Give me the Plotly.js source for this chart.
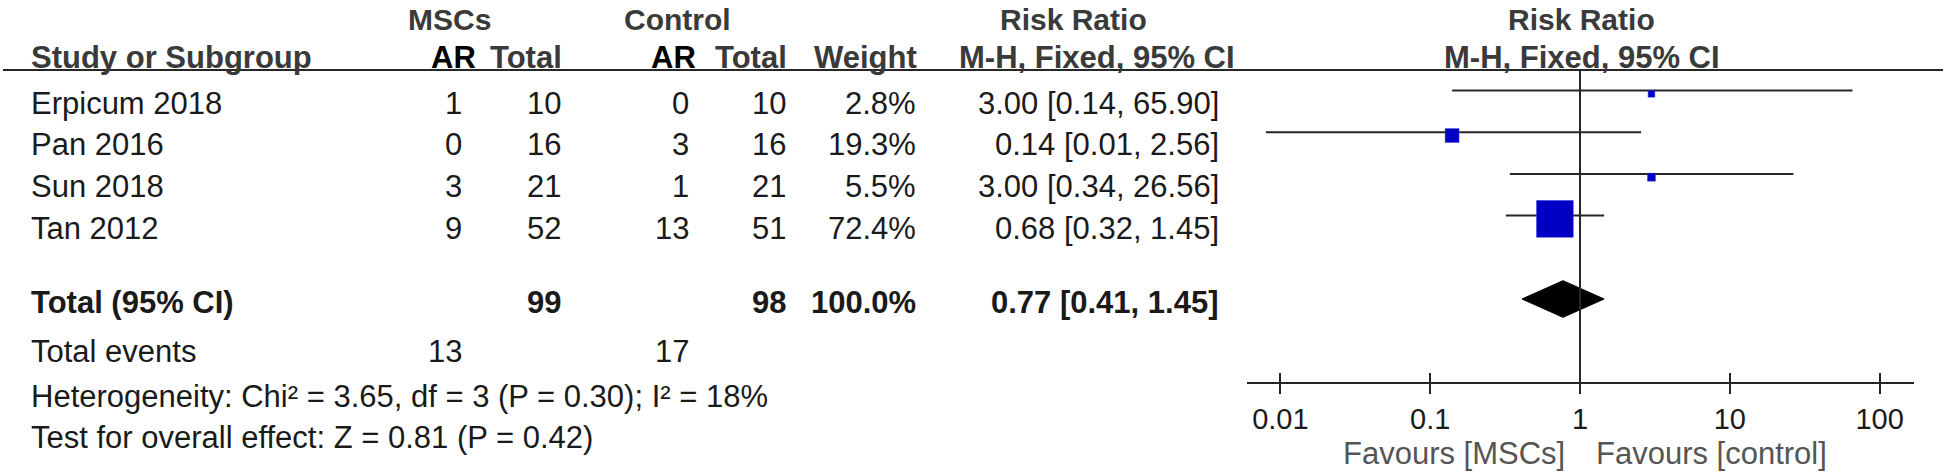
<html><head><meta charset="UTF-8"><title>Forest plot - AR</title>
<script src="https://cdn.plot.ly/plotly-3.0.1.min.js"></script>
<style>
  body, html { margin: 0; padding: 0; background: #ffffff; }
  #plot { width: 1946px; height: 472px; }
</style></head><body>
<div id="plot"></div>
<script>
// study data
const studies   = ['Erpicum 2018', 'Pan 2016', 'Sun 2018', 'Tan 2012'];
const mscEvents = [1, 0, 3, 9];
const mscTotal  = [10, 16, 21, 52];
const ctlEvents = [0, 3, 1, 13];
const ctlTotal  = [10, 16, 21, 51];
const weights   = [2.8, 19.3, 5.5, 72.4];
const riskRatio = [3.00, 0.14, 3.00, 0.68];
const ciLow     = [0.14, 0.008, 0.34, 0.32];
const ciHigh    = [65.90, 2.56, 26.56, 1.45];

const pooledRR   = 0.77;
const pooledLow  = 0.41;
const pooledHigh = 1.45;
const heterogeneityText = 'Heterogeneity: Chi² = 3.65, df = 3 (P = 0.30); I² = 18%';
const overallText = 'Test for overall effect: Z = 0.81 (P = 0.42)';

const tickVals   = [0.01, 0.1, 1, 10, 100];
const tickLabels = ['0.01', '0.1', '1', '10', '100'];

// ---- layout helpers (pixels -> paper / row units) ----
const W = 1946, H = 472;
const ROW0 = 103, ROWH = 41.7;
const px = x => x / W;
const rowOf = y => (y - ROW0) / ROWH;

const FONT = 'Arial, "Liberation Sans", sans-serif';
const BODY = 31;
const rowsIdx = studies.map((_, i) => i);
const totalRow  = rowOf(302);
const eventsRow = rowOf(351);
const hetRow    = rowOf(396);
const testRow   = rowOf(437);

const sum = a => a.reduce((s, v) => s + v, 0);
const fmt2 = v => v.toFixed(2);

const annotations = [];
function txt(text, xPix, r, anchor, opt) {
  opt = opt || {};
  annotations.push({
    text: opt.bold ? '<b>' + text + '</b>' : text,
    x: px(xPix), xref: 'paper', xanchor: anchor,
    y: r, yref: 'y', yanchor: 'middle',
    showarrow: false, borderpad: 0,
    font: { family: FONT, size: opt.size || BODY, color: opt.color || '#1a1a1a' }
  });
}

// headers
const hdr1 = rowOf(19), hdr2 = rowOf(57);
const HC = '#3a3a3a', HS = 30;
txt('MSCs', 449, hdr1, 'center', { bold: true, color: HC, size: HS });
txt('Control', 677, hdr1, 'center', { bold: true, color: HC, size: HS });
txt('Risk Ratio', 1073, hdr1, 'center', { bold: true, color: HC, size: HS });
txt('Risk Ratio', 1581, hdr1, 'center', { bold: true, color: HC, size: HS });
txt('Study or Subgroup', 30, hdr2, 'left', { bold: true, color: HC });
txt('AR', 477, hdr2, 'right', { bold: true, color: '#000' });
txt('Total', 563, hdr2, 'right', { bold: true, color: HC });
txt('AR', 697, hdr2, 'right', { bold: true, color: '#000' });
txt('Total', 788, hdr2, 'right', { bold: true, color: HC });
txt('Weight', 918, hdr2, 'right', { bold: true, color: HC });
txt('M-H, Fixed, 95% CI', 1097, hdr2, 'center', { bold: true, color: HC });
txt('M-H, Fixed, 95% CI', 1582, hdr2, 'center', { bold: true, color: HC });

// study rows
rowsIdx.forEach(i => {
  txt(studies[i], 30, i, 'left');
  txt(String(mscEvents[i]), 463, i, 'right');
  txt(String(mscTotal[i]), 562, i, 'right');
  txt(String(ctlEvents[i]), 690, i, 'right');
  txt(String(ctlTotal[i]), 787, i, 'right');
  txt(weights[i].toFixed(1) + '%', 917, i, 'right');
  txt(fmt2(riskRatio[i]) + ' [' + fmt2(ciLow[i]) + ', ' + fmt2(ciHigh[i]) + ']', 1220, i, 'right');
});

// totals
txt('Total (95% CI)', 30, totalRow, 'left', { bold: true });
txt(String(sum(mscTotal)), 562, totalRow, 'right', { bold: true });
txt(String(sum(ctlTotal)), 787, totalRow, 'right', { bold: true });
txt(sum(weights).toFixed(1) + '%', 917, totalRow, 'right', { bold: true });
txt(fmt2(pooledRR) + ' [' + fmt2(pooledLow) + ', ' + fmt2(pooledHigh) + ']', 1220, totalRow, 'right', { bold: true });
txt('Total events', 30, eventsRow, 'left');
txt(String(sum(mscEvents)), 463, eventsRow, 'right');
txt(String(sum(ctlEvents)), 690, eventsRow, 'right');
txt(heterogeneityText, 30, hetRow, 'left');
txt(overallText, 30, testRow, 'left');

// favours labels under the axis (log axis: annotation x is log10 of the value)
const favRow = rowOf(453);
annotations.push({ text: 'Favours [MSCs]', x: Math.log10(1), xref: 'x', xanchor: 'right', xshift: -14,
  y: favRow, yref: 'y', yanchor: 'middle', showarrow: false, borderpad: 0,
  font: { family: FONT, size: BODY, color: '#555' } });
annotations.push({ text: 'Favours [control]', x: Math.log10(1), xref: 'x', xanchor: 'left', xshift: 15,
  y: favRow, yref: 'y', yanchor: 'middle', showarrow: false, borderpad: 0,
  font: { family: FONT, size: BODY, color: '#555' } });

// ---- traces ----
const LINE_OFF = -0.30, BOX_OFF = -0.22;
const ciX = [], ciY = [];
rowsIdx.forEach(i => {
  ciX.push(ciLow[i], ciHigh[i], null);
  ciY.push(i + LINE_OFF, i + LINE_OFF, null);
});
const ciTrace = {
  x: ciX, y: ciY, mode: 'lines', type: 'scatter', hoverinfo: 'skip',
  line: { color: '#262626', width: 2 }, showlegend: false
};
const boxTrace = {
  x: riskRatio, y: rowsIdx.map(i => i + BOX_OFF), mode: 'markers', type: 'scatter',
  marker: { symbol: 'square', color: '#0000c4', opacity: 1,
            size: weights.map(w => 5.5 + 0.431 * w),
            line: { color: '#2a2ae0', width: 0.5 } },
  showlegend: false, hoverinfo: 'skip'
};
const dRow = rowOf(299), dHalf = 0.44;
const diamondTrace = {
  x: [pooledLow, pooledRR, pooledHigh, pooledRR, pooledLow],
  y: [dRow, dRow - dHalf, dRow, dRow + dHalf, dRow],
  mode: 'lines', type: 'scatter', fill: 'toself', fillcolor: '#000',
  line: { color: '#000', width: 1 }, showlegend: false, hoverinfo: 'skip'
};
const topRow = rowOf(70), axisRow = rowOf(382.7);
const refLine = {
  x: [1, 1], y: [topRow, axisRow], xaxis: 'x2', yaxis: 'y',
  mode: 'lines', type: 'scatter', line: { color: '#262626', width: 2 },
  showlegend: false, hoverinfo: 'skip'
};

const xLeft = 1247.3, xRight = 1914.3;
const xOne = 1580, decade = 149.8;
const xRange = [(xLeft - xOne) / decade, (xRight - xOne) / decade];
const axisPos = 1 - 382.7 / H;

const layout = {
  width: W, height: H,
  margin: { l: 0, r: 0, t: 0, b: 0, pad: 0 },
  paper_bgcolor: '#ffffff', plot_bgcolor: 'rgba(0,0,0,0)',
  showlegend: false,
  font: { family: FONT, color: '#1a1a1a' },
  xaxis: {
    type: 'log', domain: [px(xLeft), px(xRight)], range: xRange,
    anchor: 'free', position: axisPos,
    showline: true, linecolor: '#262626', linewidth: 2,
    ticks: 'outside', ticklen: 10, tickwidth: 2, tickcolor: '#262626',
    tickmode: 'array', tickvals: tickVals, ticktext: tickLabels,
    tickfont: { family: FONT, size: 29, color: '#1a1a1a' },
    showgrid: false, zeroline: false, fixedrange: true
  },
  xaxis2: {
    type: 'log', domain: [px(xLeft), px(xRight)], range: xRange,
    overlaying: 'x', matches: 'x', anchor: 'free', position: axisPos,
    showline: false, ticks: 'inside', ticklen: 10, tickwidth: 2, tickcolor: '#262626',
    tickmode: 'array', tickvals: tickVals, showticklabels: false,
    showgrid: false, zeroline: false, fixedrange: true
  },
  yaxis: {
    range: [(H - ROW0) / ROWH, -ROW0 / ROWH], domain: [0, 1],
    visible: false, showgrid: false, zeroline: false, fixedrange: true
  },
  shapes: [
    { type: 'line', xref: 'paper', yref: 'y', x0: px(3), x1: px(1943), y0: topRow, y1: topRow,
      line: { color: '#262626', width: 2 } }
  ],
  annotations: annotations
};

Plotly.newPlot('plot', [ciTrace, diamondTrace, boxTrace, refLine], layout, { staticPlot: true });
</script>
</body></html>
